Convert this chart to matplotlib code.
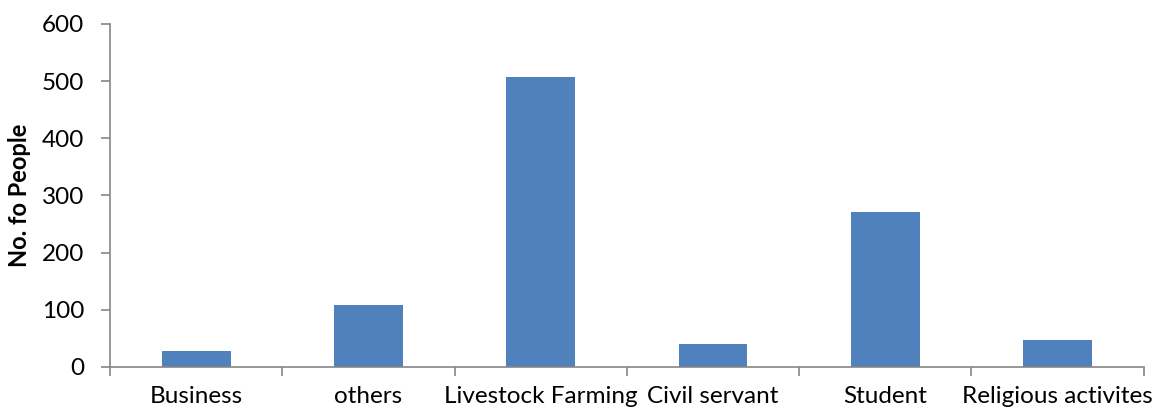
import matplotlib
matplotlib.use("Agg")
import matplotlib.pyplot as plt
from matplotlib.ticker import FixedLocator

# values
categories = ["Business", "others", "Livestock Farming", "Civil servant",
              "Student", "Religious activites"]
people = [28, 108, 507, 41, 271, 47]
y_ticks = [0, 100, 200, 300, 400, 500, 600]

plt.rcParams['font.family'] = ['Lato', 'DejaVu Sans']

fig = plt.figure(figsize=(11.57, 4.13), dpi=100)
ax = fig.add_axes([0.0951, 0.1114, 0.8934, 0.8305])

x = list(range(len(categories)))
ax.bar(x, people, width=0.4, color="#4F81BD", zorder=2)

ax.set_xlim(-0.5, len(categories) - 0.5)
ax.set_ylim(0, 600)
ax.set_yticks(y_ticks)

axis_grey = "#868686"
for side in ("top", "right"):
    ax.spines[side].set_visible(False)
for side in ("left", "bottom"):
    ax.spines[side].set_color(axis_grey)
    ax.spines[side].set_linewidth(1.2)

ax.set_xticks(x)
ax.set_xticklabels(categories, fontsize=17.5)
ax.tick_params(axis="x", which="major", length=0, pad=14)
ax.xaxis.set_minor_locator(FixedLocator([i - 0.5 for i in range(len(categories) + 1)]))
ax.tick_params(axis="x", which="minor", direction="out", length=6.5,
               width=1.2, color=axis_grey)

ax.tick_params(axis="y", direction="out", length=6.5, width=1.2,
               color=axis_grey, labelsize=17.5, pad=12)

ax.set_ylabel("No. fo People", fontsize=17, fontweight="bold", labelpad=8)

fig.savefig("out.png", dpi=100)
